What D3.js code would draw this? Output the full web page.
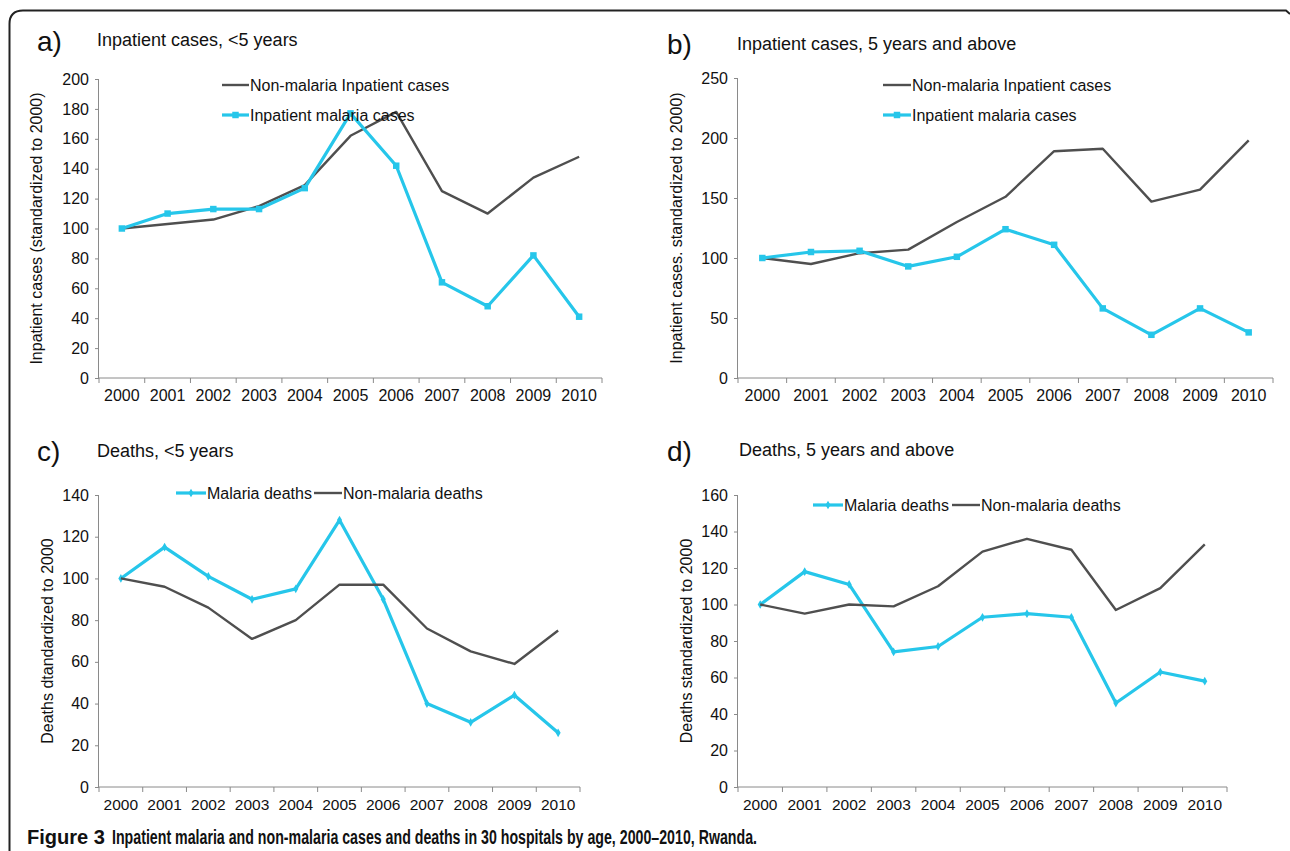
<!DOCTYPE html>
<html><head><meta charset="utf-8">
<script src="https://cdn.jsdelivr.net/npm/d3@7"></script>
<style>
body{margin:0;background:#fff;}
text{font-family:"Liberation Sans",Arial,sans-serif;fill:#111;}
</style></head><body>
<svg id="chart" width="1290" height="851"></svg>
<script>
const years = ["2000","2001","2002","2003","2004","2005","2006","2007","2008","2009","2010"];

// Panel a: Inpatient cases, <5 years
const aNonMalaria = [100,103,106,115,129,162,178,125,110,134,148];
const aMalaria    = [100,110,113,113,127,177,142,64,48,82,41];
const aTicks = [0,20,40,60,80,100,120,140,160,180,200];
// Panel b: Inpatient cases, 5 years and above
const bNonMalaria = [100,95,104,107,130,151,189,191,147,157,198];
const bMalaria    = [100,105,106,93,101,124,111,58,36,58,38];
const bTicks = [0,50,100,150,200,250];
// Panel c: Deaths, <5 years
const cMalaria    = [100,115,101,90,95,128,90,40,31,44,26];
const cNonMalaria = [100,96,86,71,80,97,97,76,65,59,75];
const cTicks = [0,20,40,60,80,100,120,140];
// Panel d: Deaths, 5 years and above
const dMalaria    = [100,118,111,74,77,93,95,93,46,63,58];
const dNonMalaria = [100,95,100,99,110,129,136,130,97,109,133];
const dTicks = [0,20,40,60,80,100,120,140,160];

const GREY = "#4f4f4f", CYAN = "#26c6ea", AXIS = "#8a8a8a";
const svg = d3.select("#chart");

// frame
svg.append("path")
  .attr("d","M9.5,851 L9.5,24 Q9.5,10.5 23,10.5 L1286,10.5 L1290,14")
  .attr("fill","none").attr("stroke","#222").attr("stroke-width",2);

function panel(cfg){
  const g = svg.append("g");
  const x = d3.scaleBand().domain(years).range([cfg.x0,cfg.x1]);
  const y = d3.scaleLinear().domain([0,cfg.max]).range([cfg.yBot,cfg.yTop]);

  // y axis
  const ya = g.append("g").attr("transform",`translate(${cfg.x0},0)`)
    .call(d3.axisLeft(y).tickValues(cfg.ticks).tickSize(4).tickPadding(6));
  ya.select(".domain").attr("stroke",AXIS).attr("d",`M-0.5,${cfg.yTop}V${cfg.yBot}`);
  ya.selectAll(".tick line").attr("stroke",AXIS);
  ya.selectAll(".tick text").style("font-size","16px").attr("fill","#111");

  // x axis: ticks at band boundaries
  const xa = g.append("g").attr("transform",`translate(0,${cfg.yBot})`);
  xa.append("line").attr("x1",cfg.x0).attr("x2",cfg.x1).attr("stroke",AXIS);
  const bounds = years.map(d=>x(d)).concat([cfg.x1]);
  xa.selectAll("line.tk").data(bounds).join("line").attr("class","tk")
    .attr("x1",d=>d).attr("x2",d=>d).attr("y1",0).attr("y2",5).attr("stroke",AXIS);
  xa.selectAll("text").data(years).join("text")
    .attr("x",d=>x(d)+x.bandwidth()/2).attr("y",cfg.yearDy)
    .attr("text-anchor","middle").style("font-size",cfg.yearFs+"px").text(d=>d);

  // titles
  g.append("text").attr("x",cfg.lx).attr("y",cfg.ly).style("font-size","28px").text(cfg.letter);
  g.append("text").attr("x",cfg.tx).attr("y",cfg.ty).style("font-size","18px").text(cfg.title);
  g.append("text").attr("transform",`translate(${cfg.ylx},${(cfg.yTop+cfg.yBot)/2}) rotate(-90)`)
    .attr("text-anchor","middle").style("font-size","16px").text(cfg.yLabel);

  const line = d3.line().x((d,i)=>x(years[i])+x.bandwidth()/2).y(d=>y(d));
  cfg.series.forEach(s=>{
    g.append("path").datum(s.values).attr("d",line).attr("fill","none")
      .attr("stroke",s.color).attr("stroke-width",s.color===CYAN?3.2:2.4)
      .attr("stroke-linejoin","round");
    if(s.marker){
      const sym = d3.symbol().type(s.marker==="square"?d3.symbolSquare:d3.symbolDiamond).size(s.marker==="square"?42:22);
      g.selectAll(null).data(s.values).join("path")
        .attr("transform",(d,i)=>`translate(${x(years[i])+x.bandwidth()/2},${y(d)})`)
        .attr("d",sym).attr("fill",s.color);
    }
  });
  // legend
  cfg.legend.forEach(l=>{
    const s = cfg.series[l.i];
    g.append("line").attr("x1",l.x).attr("x2",l.x+l.w).attr("y1",l.y).attr("y2",l.y)
      .attr("stroke",s.color).attr("stroke-width",s.color===CYAN?3.2:2.4);
    if(s.marker){
      const sym = d3.symbol().type(s.marker==="square"?d3.symbolSquare:d3.symbolDiamond).size(s.marker==="square"?42:22);
      g.append("path").attr("transform",`translate(${l.x+l.w/2},${l.y})`).attr("d",sym).attr("fill",s.color);
    }
    g.append("text").attr("x",l.x+l.w+1).attr("y",l.y+5.5).style("font-size","16px").text(s.name);
  });
}

panel({x0:99,x1:602,yTop:79,yBot:378,max:200,ticks:aTicks,yearDy:23,yearFs:16,
  letter:"a)",lx:37,ly:51,title:"Inpatient cases, <5 years",tx:97,ty:46,
  yLabel:"Inpatient cases (standardized to 2000)",ylx:42,
  series:[{name:"Non-malaria Inpatient cases",values:aNonMalaria,color:GREY},
          {name:"Inpatient malaria cases",values:aMalaria,color:CYAN,marker:"square"}],
  legend:[{i:0,x:222,y:85,w:27},{i:1,x:222,y:115,w:27}]});

panel({x0:738,x1:1273,yTop:78,yBot:378,max:250,ticks:bTicks,yearDy:23,yearFs:16,
  letter:"b)",lx:667,ly:54,title:"Inpatient cases, 5 years and above",tx:737,ty:50,
  yLabel:"Inpatient cases. standardized to 2000)",ylx:682,
  series:[{name:"Non-malaria Inpatient cases",values:bNonMalaria,color:GREY},
          {name:"Inpatient malaria cases",values:bMalaria,color:CYAN,marker:"square"}],
  legend:[{i:0,x:883,y:85,w:28},{i:1,x:883,y:115,w:28}]});

panel({x0:99,x1:580,yTop:495,yBot:787,max:140,ticks:cTicks,yearDy:23,yearFs:15.5,
  letter:"c)",lx:37,ly:461,title:"Deaths, <5 years",tx:97,ty:457,
  yLabel:"Deaths dtandardized to 2000",ylx:53,
  series:[{name:"Malaria deaths",values:cMalaria,color:CYAN,marker:"diamond"},
          {name:"Non-malaria deaths",values:cNonMalaria,color:GREY}],
  legend:[{i:0,x:176,y:493,w:30},{i:1,x:314,y:493,w:28}]});

panel({x0:738,x1:1227,yTop:495,yBot:787,max:160,ticks:dTicks,yearDy:23,yearFs:15.5,
  letter:"d)",lx:667,ly:461,title:"Deaths, 5 years and above",tx:739,ty:456,
  yLabel:"Deaths standardized to 2000",ylx:692,
  series:[{name:"Malaria deaths",values:dMalaria,color:CYAN,marker:"diamond"},
          {name:"Non-malaria deaths",values:dNonMalaria,color:GREY}],
  legend:[{i:0,x:813,y:505,w:30},{i:1,x:952,y:505,w:28}]});

// caption
const capFont = '"Liberation Sans Narrow","Arial Narrow","Liberation Sans",Arial,sans-serif';
svg.append("text").attr("x",27).attr("y",844)
  .attr("textLength",78).attr("lengthAdjust","spacingAndGlyphs")
  .style("font-family",capFont).style("font-size","20px").style("font-weight","bold").attr("fill","#000").text("Figure 3");
svg.append("text").attr("x",112).attr("y",844)
  .attr("textLength",645).attr("lengthAdjust","spacingAndGlyphs")
  .style("font-family",capFont).style("font-size","20px").style("font-weight","bold").attr("fill","#1a1a1a")
  .text("Inpatient malaria and non-malaria cases and deaths in 30 hospitals by age, 2000–2010, Rwanda.");
</script></body></html>
